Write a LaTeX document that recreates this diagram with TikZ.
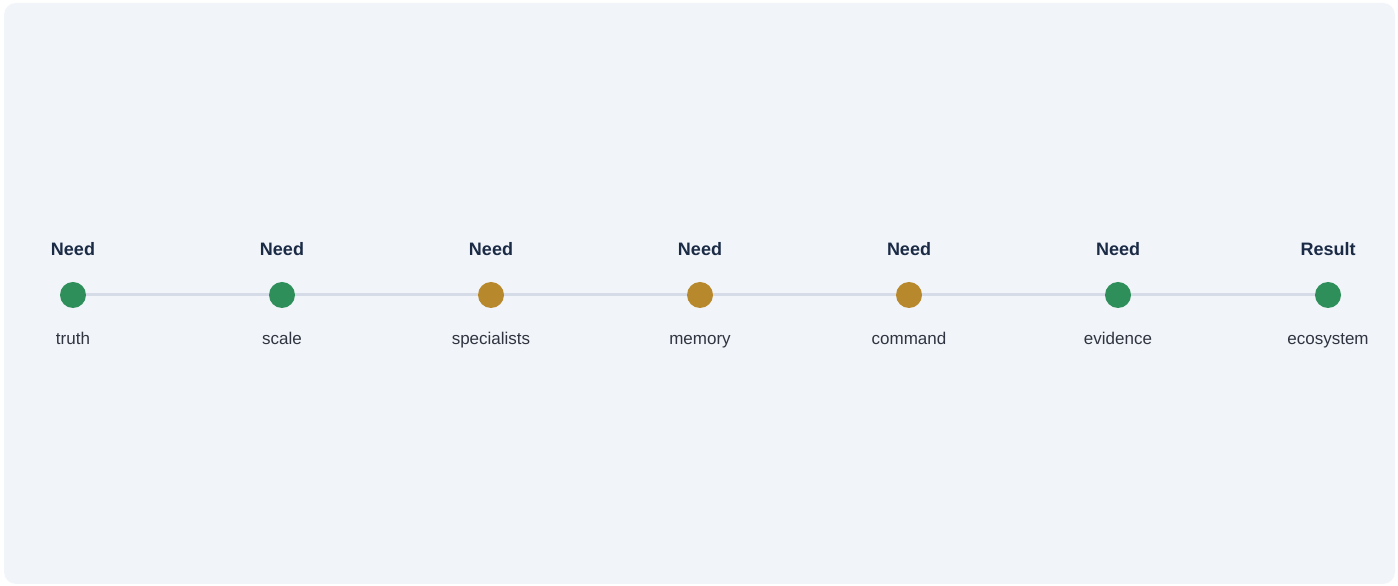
\documentclass[tikz,border=0pt]{standalone}
\usepackage{fontspec}
\setmainfont{Liberation Sans}
\definecolor{bgpanel}{HTML}{F1F5F9}
\definecolor{linec}{HTML}{D5DCE8}
\definecolor{greenc}{HTML}{2E8F5A}
\definecolor{goldc}{HTML}{B8882C}
\definecolor{titlec}{HTML}{1B2A45}
\definecolor{labelc}{HTML}{2F3440}
\tikzset{
  dot/.style={circle, minimum size=26pt, inner sep=0pt},
  gdot/.style={dot, fill=greenc},
  odot/.style={dot, fill=goldc},
  toplabel/.style={font=\fontsize{18pt}{20pt}\selectfont\bfseries, text=titlec, anchor=base},
  botlabel/.style={font=\fontsize{17pt}{19pt}\selectfont, text=labelc, anchor=base},
  conn/.style={draw=linec, line width=3pt}
}
\begin{document}
\begin{tikzpicture}[x=1pt,y=1pt]
\useasboundingbox (0,0) rectangle (1398,586);
\fill[white] (0,0) rectangle (1398,586);
\fill[bgpanel, rounded corners=12pt] (4,2) rectangle (1395,583);
% dots
\node[gdot] (n1) at (73,291) {};
\node[gdot] (n2) at (282,291) {};
\node[odot] (n3) at (491,291) {};
\node[odot] (n4) at (700,291) {};
\node[odot] (n5) at (909,291) {};
\node[gdot] (n6) at (1118,291) {};
\node[gdot] (n7) at (1328,291) {};
\foreach \a/\b in {n1/n2,n2/n3,n3/n4,n4/n5,n5/n6,n6/n7}{
  \draw[conn] (\a.east) -- (\b.west);
}
% top labels
\node[toplabel] (t1) at (73,330) {Need};
\node[toplabel] (t2) at (282,330) {Need};
\node[toplabel] (t3) at (491,330) {Need};
\node[toplabel] (t4) at (700,330) {Need};
\node[toplabel] (t5) at (909,330) {Need};
\node[toplabel] (t6) at (1118,330) {Need};
\node[toplabel] (t7) at (1328,330) {Result};
% bottom labels
\node[botlabel] (b1) at (73,241) {truth};
\node[botlabel] (b2) at (282,241) {scale};
\node[botlabel] (b3) at (491,241) {specialists};
\node[botlabel] (b4) at (700,241) {memory};
\node[botlabel] (b5) at (909,241) {command};
\node[botlabel] (b6) at (1118,241) {evidence};
\node[botlabel] (b7) at (1328,241) {ecosystem};
\end{tikzpicture}
\end{document}
